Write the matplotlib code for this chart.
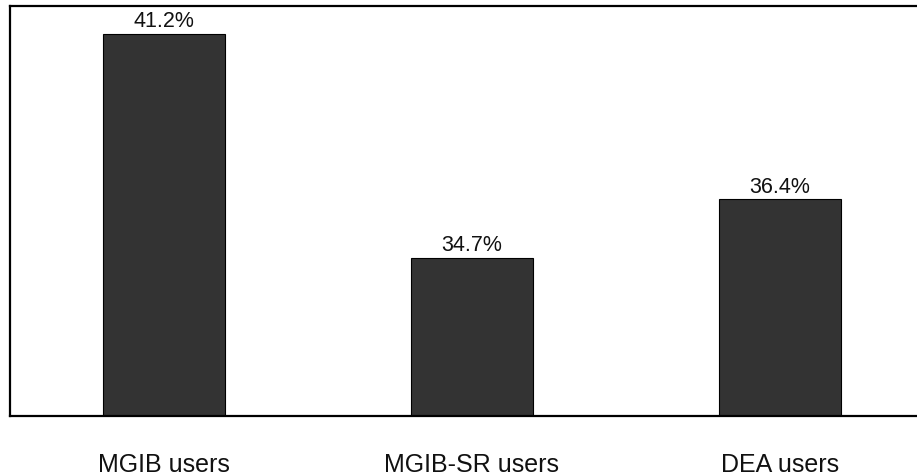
import numpy as np
import matplotlib.pyplot as plt

plt.rcParams['font.family'] = ['Liberation Sans', 'DejaVu Sans']

categories = ['MGIB users', 'MGIB-SR users', 'DEA users']
values = [41.2, 34.7, 36.4]

W, H = 917, 476
fig = plt.figure(figsize=(W / 100, H / 100), dpi=100)

# axes box: left edge at 10px, spans three 308px slots, top at 6px, bottom at 416px
left, bottom, top = 10, 416, 6
ax = fig.add_axes([left / W, (H - bottom) / H, 3 * 308 / W, (bottom - top) / H])

x = np.arange(len(categories))
bars = ax.bar(x, values, width=0.394, color='#333333', edgecolor='black', linewidth=0.8)

for b, v in zip(bars, values):
    ax.annotate(f'{v}%', (b.get_x() + b.get_width() / 2, v),
                xytext=(0, 1), textcoords='offset points',
                ha='center', va='bottom', fontsize=15.5, color='#111111')

ax.set_xlim(-0.5, 2.5)
ax.set_ylim(30.1, 42.0)
ax.set_xticks(x)
ax.set_xticklabels(categories, fontsize=18, color='#111111')
ax.tick_params(axis='x', length=0, pad=26.5)
ax.set_yticks([])

for side in ['left', 'top', 'bottom']:
    ax.spines[side].set_linewidth(1.6)
ax.spines['right'].set_visible(False)

fig.savefig('out.png', dpi=100)
